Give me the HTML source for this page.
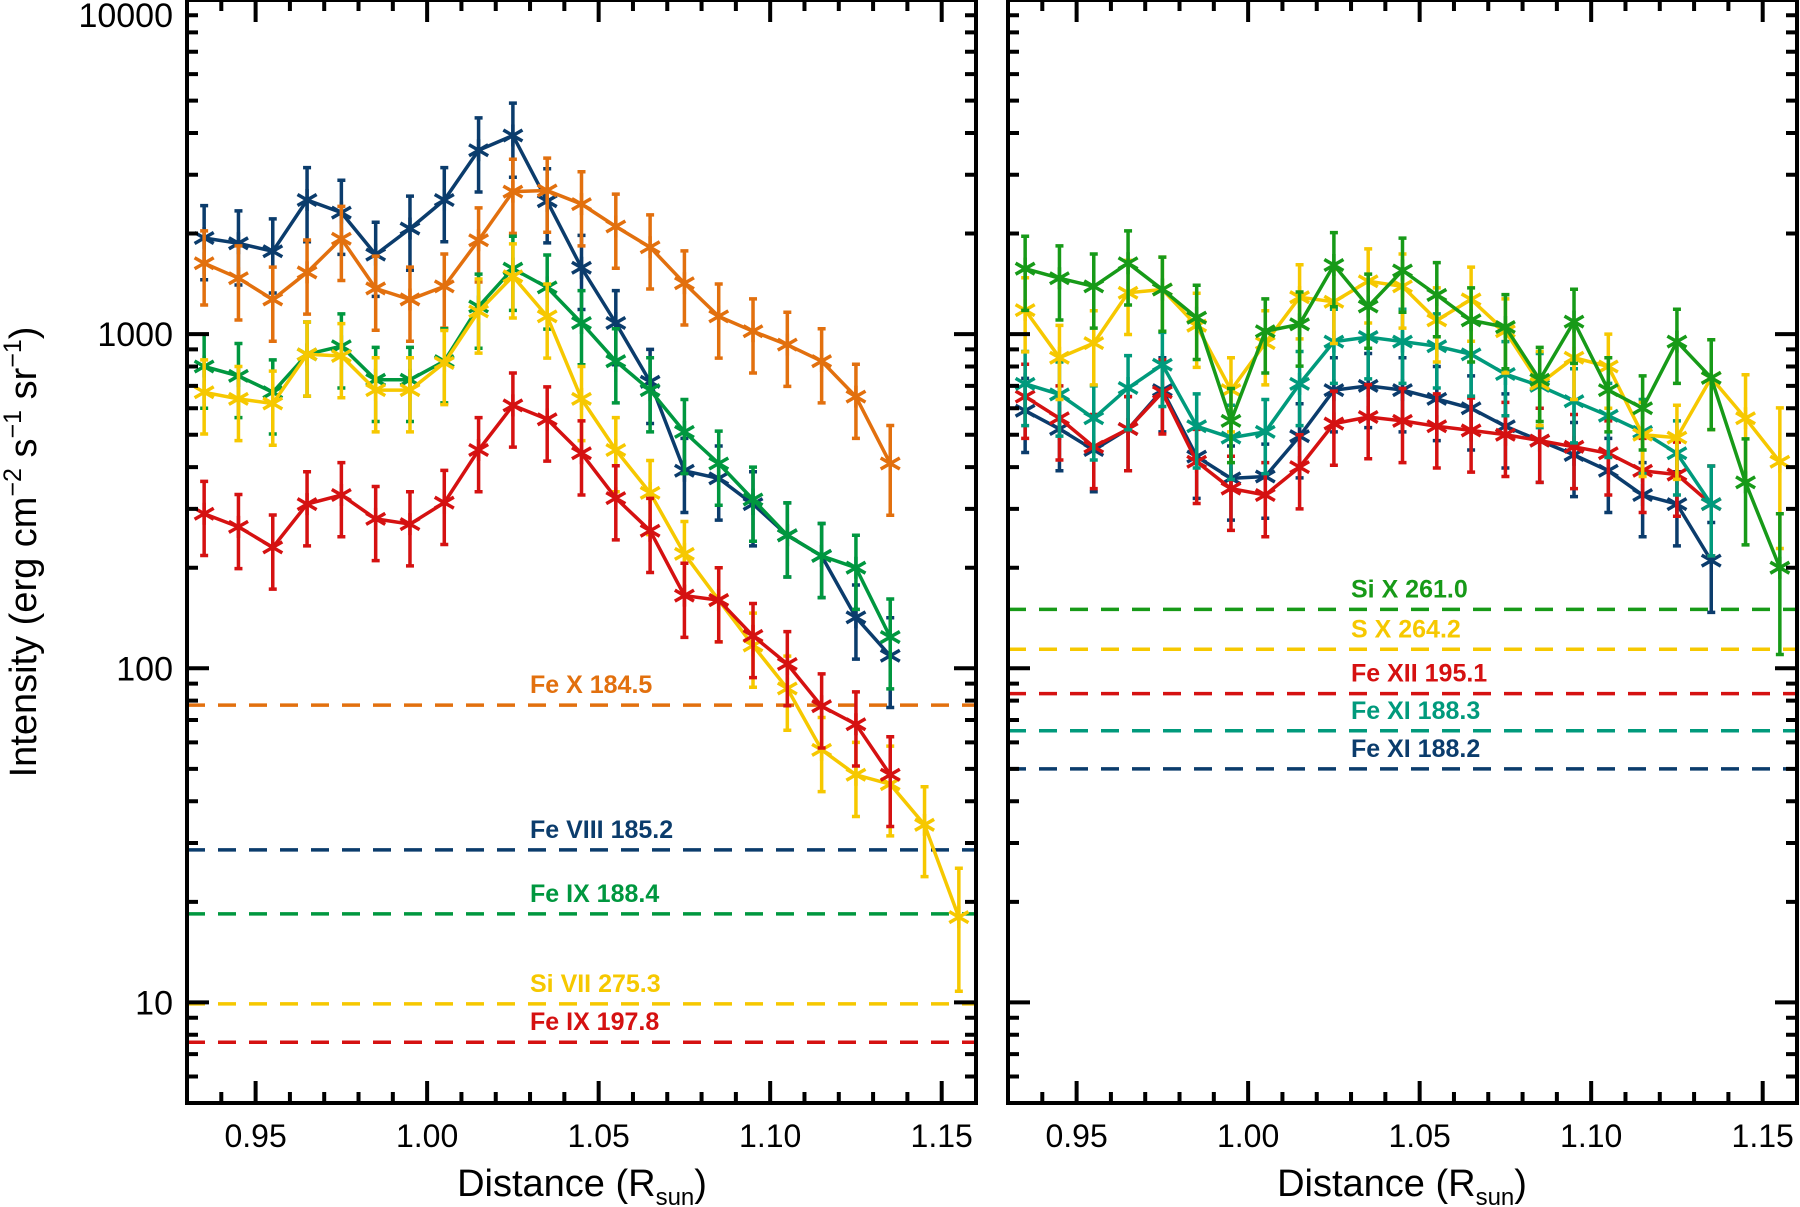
<!DOCTYPE html>
<html><head><meta charset="utf-8"><style>
html,body{margin:0;padding:0;background:#fff;}
svg{display:block;font-family:"Liberation Sans",sans-serif;}
</style></head><body>
<svg id="chart" width="1800" height="1207" viewBox="0 0 1800 1207" xmlns="http://www.w3.org/2000/svg">
<text transform="translate(36,552) rotate(-90)" text-anchor="middle" font-size="38">Intensity (erg cm<tspan font-size="25" dy="-15">−2</tspan><tspan dy="15"> s</tspan><tspan font-size="25" dy="-15">−1</tspan><tspan dy="15"> sr</tspan><tspan font-size="25" dy="-15">−1</tspan><tspan dy="15">)</tspan></text>
<text x="582" y="1196" text-anchor="middle" font-size="38">Distance (R<tspan font-size="24" dy="9">sun</tspan><tspan dy="-9">)</tspan></text>
<text x="1402" y="1196" text-anchor="middle" font-size="38">Distance (R<tspan font-size="24" dy="9">sun</tspan><tspan dy="-9">)</tspan></text>
</svg>
<script>
const xs = [0.935,0.945,0.955,0.965,0.975,0.985,0.995,1.005,1.015,1.025,1.035,1.045,1.055,1.065,1.075,1.085,1.095,1.105,1.115,1.125,1.135,1.145,1.155];
const yTicks = [10,100,1000,10000];
const yTickLabels = ["10","100","1000","10000"];
const xTicks = [0.95,1.00,1.05,1.10,1.15];
const xTickLabels = ["0.95","1.00","1.05","1.10","1.15"];

// Left panel
const feVIII = [1940,1870,1770,2520,2310,1730,2070,2520,3550,3930,2500,1580,1080,720,390,370,310,250,217,142,109];
const feX = [1630,1470,1270,1530,1930,1370,1270,1390,1910,2670,2690,2450,2100,1820,1420,1130,1020,930,830,650,410];
const feIX188 = [800,750,670,870,920,730,730,830,1210,1570,1380,1080,830,680,510,410,320,250,217,200,124];
const siVII = [670,640,620,870,860,680,680,820,1170,1490,1130,640,450,335,220,160,117,87,57,48,45,34,18];
const feIX197 = [290,265,230,310,330,280,270,313,450,612,556,440,323,258,165,160,125,103,77,68,48];
const errLeft = [0.25,0.25,0.25,0.25,0.25,0.25,0.25,0.25,0.25,0.25,0.25,0.25,0.25,0.25,0.25,0.25,0.25,0.25,0.25,0.25,0.3,0.3,0.4];
// Right panel
const siX = [1570,1470,1390,1630,1360,1120,550,1020,1070,1610,1210,1550,1310,1100,1050,730,1090,680,600,950,740,360,200];
const sX = [1180,850,940,1330,1360,1060,680,940,1290,1250,1440,1390,1100,1270,1020,710,850,800,500,490,740,560,415];
const feXI1883 = [710,660,560,690,810,530,490,510,710,950,980,950,920,870,760,700,630,570,510,440,310];
const feXI1882 = [590,520,450,520,680,430,370,375,495,680,700,680,640,600,530,480,435,390,330,310,210];
const feXII = [650,560,460,520,670,415,345,330,400,540,565,550,530,515,500,480,460,440,390,380,310];
const errRight = [0.25,0.25,0.25,0.25,0.25,0.25,0.25,0.25,0.25,0.25,0.25,0.25,0.25,0.25,0.25,0.25,0.25,0.25,0.25,0.25,0.3,0.35,0.45];

const leftRefNames = ["Fe X 184.5","Fe VIII 185.2","Fe IX 188.4","Si VII 275.3","Fe IX 197.8"];
const leftRefValues = [77.6,28.6,18.4,9.9,7.6];
const rightRefNames = ["Si X 261.0","S X 264.2","Fe XII 195.1","Fe XI 188.3","Fe XI 188.2"];
const rightRefValues = [150,114,84,65,50];

const C = {blue:"#0b3c6c",orange:"#e2700e",green:"#00973f",yellow:"#f6c800",red:"#d51111",teal:"#009a7c",green2:"#179a18"};
const leftSeries = [
 {name:"fe-viii-185",v:feVIII,c:C.blue},
 {name:"fe-x-184",v:feX,c:C.orange},
 {name:"fe-ix-188",v:feIX188,c:C.green},
 {name:"si-vii-275",v:siVII,c:C.yellow},
 {name:"fe-ix-197",v:feIX197,c:C.red}];
const leftRefColors=[C.orange,C.blue,C.green,C.yellow,C.red];
const rightSeries = [
 {name:"fe-xi-188-2",v:feXI1882,c:C.blue},
 {name:"fe-xii-195",v:feXII,c:C.red},
 {name:"fe-xi-188-3",v:feXI1883,c:C.teal},
 {name:"s-x-264",v:sX,c:C.yellow},
 {name:"si-x-261",v:siX,c:C.green2}];
const rightRefColors=[C.green2,C.yellow,C.red,C.teal,C.blue];

const svg=document.getElementById('chart');
const NS="http://www.w3.org/2000/svg";
const TOP=0,BOT=1103,YMIN=5,YMAX=10000;
function yS(v){return BOT-(Math.log10(v)-Math.log10(YMIN))/(Math.log10(YMAX)-Math.log10(YMIN))*(BOT-TOP);}
function mk(tag,attrs,parent){const e=document.createElementNS(NS,tag);for(const k in attrs)e.setAttribute(k,attrs[k]);(parent||svg).appendChild(e);return e;}

function panel(px0,px1,series,refNames,refVals,refColors,labelX,showY,pname){
  const xS=v=>px0+(v-0.93)/(1.16-0.93)*(px1-px0);
  const g=mk('g',{});
  
  
  refVals.forEach((rv,i)=>{
    const y=yS(rv);
    const l=mk('line',{x1:px0,x2:px1,y1:y,y2:y,stroke:refColors[i],'stroke-width':3.5,'stroke-dasharray':'18 13'},g);
    
    
    const t=mk('text',{x:labelX,y:y-12,fill:refColors[i],'font-size':25,'font-weight':'bold'},g);
    
    
    t.textContent=refNames[i];
  });
  const err = pname==='left-panel'?errLeft:errRight;
  series.forEach(s=>{
    const sg=mk('g',{},g);
    
    
    const pts=s.v.map((v,i)=>xS(xs[i]).toFixed(1)+','+yS(v).toFixed(1)).join(' ');
    const pl=mk('polyline',{points:pts,fill:'none',stroke:s.c,'stroke-width':3.5},sg);
    
    
    s.v.forEach((v,i)=>{
      const x=xS(xs[i]),y=yS(v);
      const yt=Math.min(yS(v*(1+err[i])),BOT), yb=Math.min(yS(v*(1-err[i])),BOT);
      const eb=mk('path',{d:`M${x},${yt}V${yb}M${x-4},${yt}H${x+4}M${x-4},${yb}H${x+4}`,stroke:s.c,'stroke-width':3.5,fill:'none'},sg);
      
      
      const r=11;
      const m=mk('path',{d:`M${x-r*0.87},${y-r*0.5}L${x+r*0.87},${y+r*0.5}M${x-r*0.87},${y+r*0.5}L${x+r*0.87},${y-r*0.5}M${x},${y-r}V${y+r}`,stroke:s.c,'stroke-width':3.5,fill:'none'},sg);
      
      
    });
  });
  const fr=mk('rect',{x:px0,y:TOP,width:px1-px0,height:BOT-TOP,fill:'none',stroke:'#000','stroke-width':4},g);
  
  
  let d='';
  for(let k=93;k<=116;k++){
    const v=k/100,x=xS(v);const major=(k%5===0);const L=major?22:11;
    d+=`M${x},${BOT}V${BOT-L}M${x},${TOP}V${TOP+L}`;
  }
  for(let dec=1;dec<=10000;dec*=10){
    for(let m=1;m<=9;m++){
      const v=dec*m; if(v<YMIN||v>YMAX)continue;
      const y=yS(v);const L=m===1?22:11;
      d+=`M${px0},${y}H${px0+L}M${px1},${y}H${px1-L}`;
    }
  }
  const tk=mk('path',{d:d,stroke:'#000','stroke-width':4,fill:'none'},g);
  
  
  xTicks.forEach((v,i)=>{
    const t=mk('text',{x:xS(v),y:1147,'text-anchor':'middle','font-size':32},g);
    
    
    t.textContent=xTickLabels[i];
  });
  if(showY){
    yTicks.forEach((v,i)=>{
      const t=mk('text',{x:px0-14,y:Math.max(yS(v)+12,27),'text-anchor':'end','font-size':34},g);
      
      
      t.textContent=yTickLabels[i];
    });
  }
}
panel(187,976,leftSeries,leftRefNames,leftRefValues,leftRefColors,530,true,'left-panel');
panel(1008,1797,rightSeries,rightRefNames,rightRefValues,rightRefColors,1351,false,'right-panel');
</script>
</body></html>
